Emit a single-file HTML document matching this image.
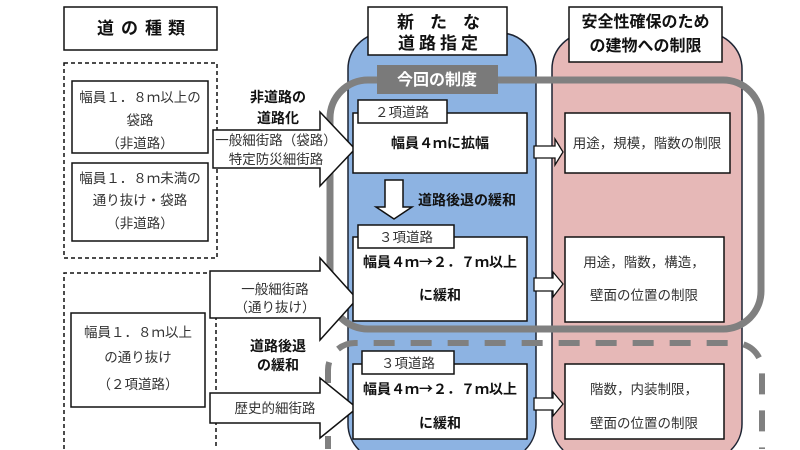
<!DOCTYPE html>
<html><head><meta charset="utf-8"><style>
html,body{margin:0;padding:0;background:#fff;width:800px;height:450px;overflow:hidden;}
svg{display:block;}
text{font-family:"Liberation Sans","Noto Sans CJK JP",sans-serif;}
.n{font-size:13.5px;fill:#333;}
.b{font-weight:bold;fill:#111;}
.m{text-anchor:middle;}
.cj{font-family:"Noto Sans CJK JP",sans-serif;}
</style></head><body>
<svg width="800" height="450" viewBox="0 0 800 450" xmlns="http://www.w3.org/2000/svg">
<!-- columns -->
<path d="M359.1,450 A36,36 0 0 1 348,424 L348,69 A36,36 0 0 1 384,33 L500,33 A36,36 0 0 1 536,69 L536,424 A36,36 0 0 1 524.9,450 Z" fill="#8db3e2"/>
<path d="M359.1,450 A36,36 0 0 1 348,424 L348,69 A36,36 0 0 1 384,33 L500,33 A36,36 0 0 1 536,69 L536,424 A36,36 0 0 1 524.9,450" fill="none" stroke="#1d2433" stroke-width="1.5"/>
<path d="M563.1,450 A36,36 0 0 1 552,424 L552,69 A36,36 0 0 1 588,33 L706,33 A36,36 0 0 1 742,69 L742,424 A36,36 0 0 1 730.9,450 Z" fill="#e6b8b7"/>
<path d="M563.1,450 A36,36 0 0 1 552,424 L552,69 A36,36 0 0 1 588,33 L706,33 A36,36 0 0 1 742,69 L742,424 A36,36 0 0 1 730.9,450" fill="none" stroke="#1d2433" stroke-width="1.5"/>

<!-- gray solid frame -->
<rect x="330" y="80" width="431" height="249" rx="38" ry="38" fill="none" stroke="#808080" stroke-width="7"/>
<!-- gray dashed frame -->
<path d="M328,449 L328,370 A27,27 0 0 1 355,343 L735,343 A27,27 0 0 1 762,370 L762,449" fill="none" stroke="#808080" stroke-width="6" stroke-dasharray="21 16" stroke-dashoffset="8"/>

<!-- headers -->
<rect x="64" y="7" width="153" height="43" fill="#fff" stroke="#111" stroke-width="1.5"/>
<text class="b" font-size="17" x="97 121 145 168" y="34">道の種類</text>
<rect x="368" y="7" width="139" height="48" fill="#fff" stroke="#111" stroke-width="1.5"/>
<text class="b" font-size="17" x="397 430 463" y="28">新たな</text>
<text class="b" font-size="17" x="398 419 440 461" y="49">道路指定</text>
<rect x="569" y="7" width="153" height="55" fill="#fff" stroke="#111" stroke-width="1.5"/>
<text class="b m" font-size="16" x="645.5" y="27">安全性確保のため</text>
<text class="b m" font-size="16" x="645.5" y="51">の建物への制限</text>

<!-- label -->
<rect x="377" y="65" width="121" height="29" fill="#7a7a7a"/>
<text class="m" font-size="16" font-weight="bold" fill="#fff" x="437" y="85">今回の制度</text>

<!-- left dashed groups -->
<rect x="64" y="63" width="153" height="195" fill="none" stroke="#111" stroke-width="1.5" stroke-dasharray="4 3"/>
<rect x="72" y="81" width="136" height="72" fill="#fff" stroke="#111" stroke-width="1.5"/>
<text class="n m" x="140" y="102">幅員１．８ｍ以上の</text>
<text class="n m" x="140" y="125">袋路</text>
<text class="n m" x="140" y="148">（非道路）</text>
<rect x="72" y="163" width="136" height="78" fill="#fff" stroke="#111" stroke-width="1.5"/>
<text class="n m" x="140" y="183">幅員１．８ｍ未満の</text>
<text class="n m" x="140" y="205">通り抜け・袋路</text>
<text class="n m" x="140" y="228">（非道路）</text>

<path d="M64,449 L64,273 L216,273 L216,449" fill="none" stroke="#111" stroke-width="1.5" stroke-dasharray="4 3"/>
<rect x="71" y="313" width="134" height="94" fill="#fff" stroke="#111" stroke-width="1.5"/>
<text class="n m" font-size="14" x="138" y="337">幅員１．８ｍ以上</text>
<text class="n m" font-size="14" x="138" y="362">の通り抜け</text>
<text class="n m" font-size="14" x="138" y="389">（２項道路）</text>

<!-- big arrows -->
<path d="M213,130 L320,130 L320,112 L355,149 L320,186 L320,168 L213,168 Z" fill="#fff" stroke="#111" stroke-width="1.5"/>
<text class="b m" font-size="14" x="278" y="102">非道路の</text>
<text class="b m" font-size="14" x="278" y="123">道路化</text>
<text class="n m" font-size="12.5" x="276" y="145">一般細街路（袋路）</text>
<text class="n m" font-size="12.5" x="276" y="164">特定防災細街路</text>

<path d="M210,271 L320,271 L320,258 L357,299 L320,340 L320,318 L210,318 Z" fill="#fff" stroke="#111" stroke-width="1.5"/>
<text class="n m" font-size="13" x="275" y="294">一般細街路</text>
<text class="n m" font-size="13" x="275" y="312">（通り抜け）</text>
<text class="b m" font-size="14" x="278" y="351">道路後退</text>
<text class="b m" font-size="14" x="278" y="370">の緩和</text>

<path d="M210,393 L320,393 L320,378 L357,408 L320,438 L320,423 L210,423 Z" fill="#fff" stroke="#111" stroke-width="1.5"/>
<text class="n m" font-size="13.5" x="275" y="413">歴史的細街路</text>

<!-- middle column boxes -->
<rect x="353" y="113" width="174" height="60" fill="#fff" stroke="#111" stroke-width="1.5"/>
<rect x="358" y="100" width="89" height="23" fill="#fff" stroke="#111" stroke-width="1.5"/>
<text class="n m" font-size="14" x="402" y="117">２項道路</text>
<text class="b m" font-size="14" x="440" y="148">幅員４ｍに拡幅</text>

<path d="M385,180 L403,180 L403,207 L412,207 L394,219 L376,207 L385,207 Z" fill="#fff" stroke="#111" stroke-width="1.5"/>
<text class="b" font-size="14" x="418" y="205">道路後退の緩和</text>

<rect x="353" y="237" width="174" height="84" fill="#fff" stroke="#111" stroke-width="1.5"/>
<rect x="358" y="225" width="96" height="23" fill="#fff" stroke="#111" stroke-width="1.5"/>
<text class="n m" font-size="14" x="406" y="242">３項道路</text>
<text class="b m" font-size="14" x="440" y="267">幅員４ｍ<tspan class="cj">→</tspan>２．７ｍ以上</text>
<text class="b m" font-size="14" x="440" y="300">に緩和</text>

<rect x="353" y="364" width="174" height="75" fill="#fff" stroke="#111" stroke-width="1.5"/>
<rect x="362" y="351" width="92" height="23" fill="#fff" stroke="#111" stroke-width="1.5"/>
<text class="n m" font-size="14" x="408" y="368">３項道路</text>
<text class="b m" font-size="14" x="440" y="394">幅員４ｍ<tspan class="cj">→</tspan>２．７ｍ以上</text>
<text class="b m" font-size="14" x="440" y="428">に緩和</text>

<!-- small arrows -->
<path d="M534,146 L555,146 L555,139 L563,152 L555,165 L555,158 L534,158 Z" fill="#fff" stroke="#111" stroke-width="1.3"/>
<path d="M534,278 L553,278 L553,272 L563,284 L553,297 L553,291 L534,291 Z" fill="#fff" stroke="#111" stroke-width="1.3"/>
<path d="M534,398 L553,398 L553,392 L563,404 L553,416 L553,410 L534,410 Z" fill="#fff" stroke="#111" stroke-width="1.3"/>

<!-- right column boxes -->
<rect x="565" y="113" width="165" height="60" fill="#fff" stroke="#111" stroke-width="1.5"/>
<text class="n m" font-size="13.5" x="647" y="148">用途，規模，階数の制限</text>
<rect x="565" y="237" width="159" height="85" fill="#fff" stroke="#111" stroke-width="1.5"/>
<text class="n m" font-size="14" x="644" y="267">用途，階数，構造，</text>
<text class="n m" font-size="14" x="644" y="300">壁面の位置の制限</text>
<rect x="565" y="364" width="159" height="75" fill="#fff" stroke="#111" stroke-width="1.5"/>
<text class="n m" font-size="14" x="644" y="394">階数，内装制限，</text>
<text class="n m" font-size="14" x="644" y="428">壁面の位置の制限</text>
</svg>
</body></html>
